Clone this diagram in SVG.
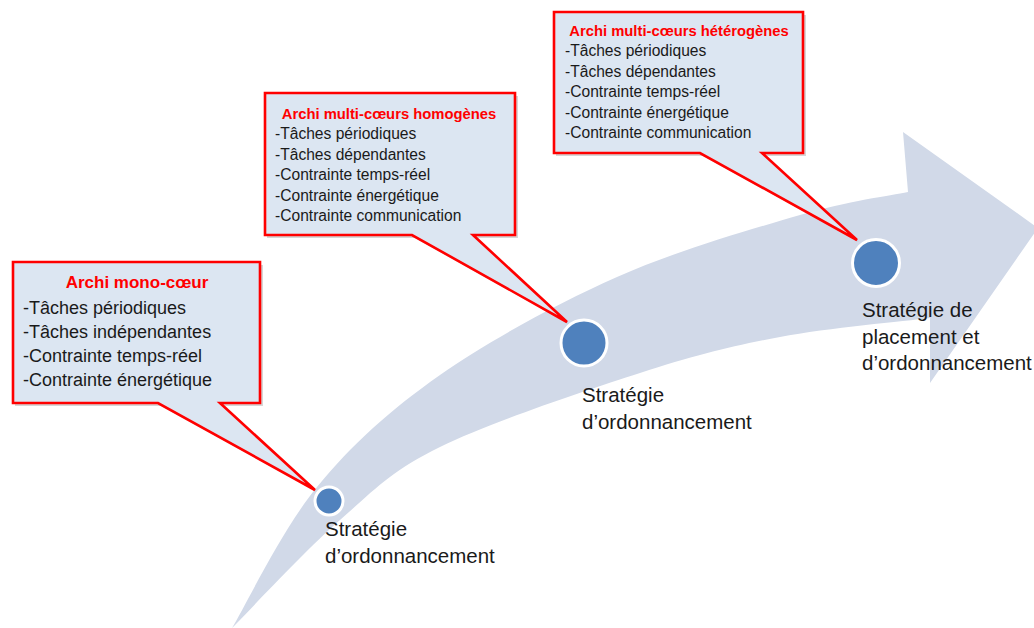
<svg xmlns="http://www.w3.org/2000/svg" width="1034" height="628" viewBox="0 0 1034 628">
<style>
.band{fill:#d1d9e8}
.callout{fill:#dce6f2;stroke:#ff0000;stroke-width:2.6;stroke-linejoin:miter}
.shadow{fill:#000;opacity:0.16}
.dot{fill:#4f81bd;stroke:#ffffff;stroke-width:3}
.t{font-family:"Liberation Sans",Arial,sans-serif;fill:#1a1a1a}
.title{font-family:"Liberation Sans",Arial,sans-serif;font-weight:bold;fill:#ff0000;text-anchor:middle}
.lbl{font-family:"Liberation Sans",Arial,sans-serif;font-size:20.5px;fill:#1a1a1a}
</style>
<rect width="1034" height="628" fill="#ffffff"/>
<g id="arrow">
<path class="band" d="M232,628 C246.2,604.5 282.3,529.2 317,487 C351.7,444.8 390,410 440,375 C490,340 557,303.7 617,277 C677,250.3 751.5,229.2 800,215 C848.5,200.8 890,195.8 908,192 L903,132 L1038,228 L930,383 L930,318 C905,321.2 828.3,327.8 780,337 C731.7,346.2 696.7,354.7 640,373 C583.3,391.3 490,422.5 440,447 C390,471.5 374.7,489.8 340,520 C305.3,550.2 250,610 232,628 Z"/>
</g>
<g id="callout-mono">
<path class="shadow" d="M15,265 H263 V406 H223 L317,492 L161,406 H15 Z"/>
<path class="callout" d="M13,262 H260 V403 H220 L315,490 L158,403 H13 Z"/>
<text class="title" x="137" y="288" font-size="17">Archi mono-cœur</text>
<text class="t" font-size="18"><tspan x="23" y="314">-Tâches périodiques</tspan><tspan x="23" y="338">-Tâches indépendantes</tspan><tspan x="23" y="362">-Contrainte temps-réel</tspan><tspan x="23" y="386">-Contrainte énergétique</tspan></text>
</g>
<g id="callout-homogenes">
<path class="shadow" d="M267,96 H518 V238 H476 L569,324 L415,238 H267 Z"/>
<path class="callout" d="M265,93 H515 V235 H473 L567,322 L412,235 H265 Z"/>
<text class="title" x="389" y="119" font-size="14.8">Archi multi-cœurs homogènes</text>
<text class="t" font-size="15.6"><tspan x="275" y="139">-Tâches périodiques</tspan><tspan x="275" y="159.5">-Tâches dépendantes</tspan><tspan x="275" y="180">-Contrainte temps-réel</tspan><tspan x="275" y="200.5">-Contrainte énergétique</tspan><tspan x="275" y="221">-Contrainte communication</tspan></text>
</g>
<g id="callout-heterogenes">
<path class="shadow" d="M556,15 H806 V156 H765 L859,242 L703,156 H556 Z"/>
<path class="callout" d="M554,12 H803 V153 H762 L857,240 L700,153 H554 Z"/>
<text class="title" x="679" y="36" font-size="14.8">Archi multi-cœurs hétérogènes</text>
<text class="t" font-size="15.6"><tspan x="565" y="56">-Tâches périodiques</tspan><tspan x="565" y="76.5">-Tâches dépendantes</tspan><tspan x="565" y="97">-Contrainte temps-réel</tspan><tspan x="565" y="117.5">-Contrainte énergétique</tspan><tspan x="565" y="138">-Contrainte communication</tspan></text>
</g>
<g id="connectors"></g>
<g id="node1">
<circle class="dot" cx="329" cy="501" r="14"/>
<text class="lbl"><tspan x="325" y="536">Stratégie</tspan><tspan x="325" y="563">d’ordonnancement</tspan></text>
</g>
<g id="node2">
<circle class="dot" cx="584" cy="343" r="23"/>
<text class="lbl"><tspan x="582" y="402">Stratégie</tspan><tspan x="582" y="429">d’ordonnancement</tspan></text>
</g>
<g id="node3">
<circle class="dot" cx="876" cy="263" r="23.5"/>
<text class="lbl"><tspan x="862" y="317">Stratégie de</tspan><tspan x="862" y="344">placement et</tspan><tspan x="862" y="370">d’ordonnancement</tspan></text>
</g>
</svg>
